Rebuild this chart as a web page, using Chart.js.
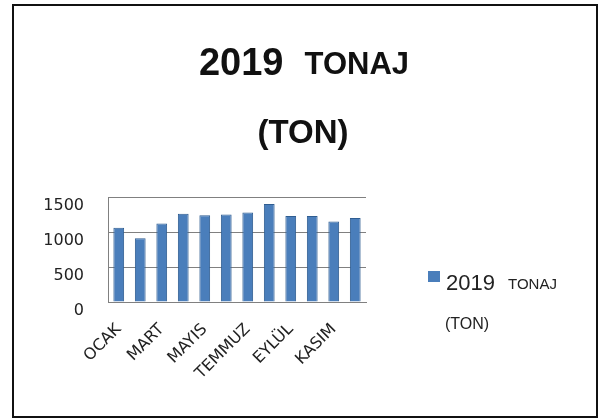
<!DOCTYPE html>
<html lang="tr">
  <head>
    <meta charset="UTF-8" />
    <title>2019 TONAJ</title>
    <script src="https://cdn.jsdelivr.net/npm/chart.js"></script>
    <style>
      body {
        margin: 0;
        background: #fff;
      }
      #wrap {
        position: relative;
        width: 600px;
        height: 418px;
      }
      #frame {
        position: absolute;
        left: 12px;
        top: 4px;
        width: 582px;
        height: 410px;
        border: 2px solid #111;
        pointer-events: none;
      }
    </style>
  </head>
  <body>
    <div id="wrap">
      <canvas id="myChart" width="600" height="418"></canvas>
      <div id="frame"></div>
    </div>

    <script>
      const months = ["OCAK", "ŞUBAT", "MART", "NİSAN", "MAYIS", "HAZİRAN", "TEMMUZ", "AĞUSTOS", "EYLÜL", "EKİM", "KASIM", "ARALIK"];
      const tonaj = [1060, 910, 1120, 1260, 1240, 1250, 1280, 1400, 1230, 1230, 1150, 1200];
      const yTicks = [0, 500, 1000, 1500];

      const barColor = "#4a7ebb";

      // title with two font sizes on the first line
      const titlePlugin = {
        id: "mixedTitle",
        afterDraw(chart) {
          const c = chart.ctx;
          c.save();
          c.fillStyle = "#111";
          c.textBaseline = "alphabetic";
          c.textAlign = "left";
          const f1 = "bold 38px 'Liberation Sans', Arial, sans-serif";
          const f2 = "bold 31px 'Liberation Sans', Arial, sans-serif";
          c.font = f1;
          const w1 = c.measureText("2019  ").width;
          c.font = f2;
          const w2 = c.measureText("TONAJ").width;
          let x = 304 - (w1 + w2) / 2;
          c.font = f1;
          c.fillText("2019", x, 75);
          c.font = f2;
          c.fillText("TONAJ", x + w1, 74);
          c.font = "bold 33px 'Liberation Sans', Arial, sans-serif";
          c.textAlign = "center";
          c.fillText("(TON)", 303, 143);
          c.restore();
        },
      };

      // legend drawn by hand, label wraps on two lines
      const legendPlugin = {
        id: "sideLegend",
        afterDraw(chart) {
          const c = chart.ctx;
          c.save();
          c.fillStyle = chart.data.datasets[0].backgroundColor;
          c.fillRect(428, 271, 12, 11);
          c.fillStyle = "#222";
          c.textAlign = "left";
          c.textBaseline = "alphabetic";
          c.font = "22px 'Liberation Sans', Arial, sans-serif";
          c.fillText("2019", 446, 290);
          c.font = "15px 'Liberation Sans', Arial, sans-serif";
          c.fillText("TONAJ", 508, 289);
          c.font = "16px 'Liberation Sans', Arial, sans-serif";
          c.fillText("(TON)", 445, 329);
          c.restore();
        },
      };

      const ctx = document.getElementById("myChart");

      const myChart = new Chart(ctx, {
        type: "bar",
        data: {
          labels: months,
          datasets: [
            {
              label: "2019 TONAJ (TON)",
              data: tonaj,
              backgroundColor: barColor,
              borderColor: "#2f5d91",
              borderWidth: 1,
              barPercentage: 0.5,
              categoryPercentage: 1,
            },
          ],
        },
        options: {
          responsive: false,
          animation: false,
          layout: {
            padding: { left: 30, top: 197, right: 234, bottom: 10 },
          },
          plugins: {
            legend: { display: false },
            title: { display: false },
            tooltip: { enabled: false },
          },
          scales: {
            x: {
              grid: { display: false },
              border: { color: "#808080" },
              ticks: {
                autoSkip: false,
                minRotation: 45,
                maxRotation: 45,
                padding: 10,
                color: "#222",
                font: { family: "'DejaVu Sans', Verdana, sans-serif", size: 16 },
                callback: (v, i) => (i % 2 === 0 ? months[i] : ""),
              },
              afterFit: (scale) => {
                scale.height = 418 - 302 - 10;
              },
            },
            y: {
              min: yTicks[0],
              max: yTicks[yTicks.length - 1],
              afterBuildTicks: (scale) => {
                scale.ticks = yTicks.map((v) => ({ value: v }));
              },
              grid: { color: "#808080", drawTicks: false },
              border: { color: "#808080" },
              ticks: {
                padding: 24,
                labelOffset: 9,
                color: "#222",
                font: { family: "'DejaVu Sans', Verdana, sans-serif", size: 16 },
                callback: (v) => String(v),
              },
              afterFit: (scale) => {
                scale.width = 108 - 30;
              },
            },
          },
        },
        plugins: [titlePlugin, legendPlugin],
      });
    </script>
  </body>
</html>
